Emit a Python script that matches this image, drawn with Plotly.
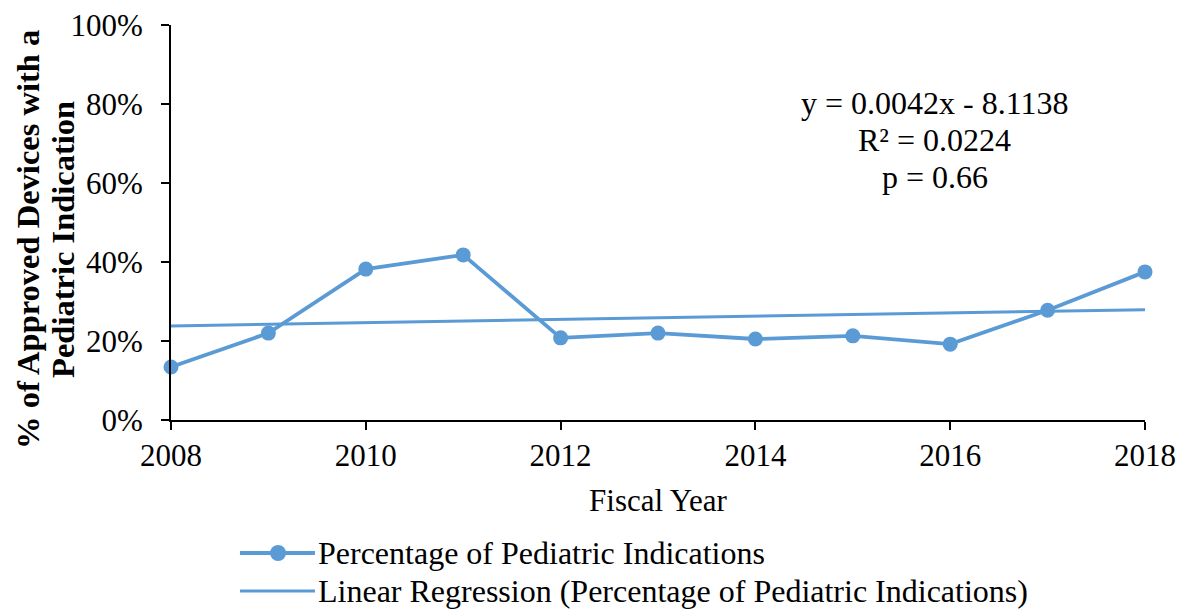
import numpy as np
import plotly.graph_objects as go

years = [2008, 2009, 2010, 2011, 2012, 2013, 2014, 2015, 2016, 2017, 2018]
pct_pediatric = [13.4, 22.0, 38.2, 41.8, 20.8, 22.0, 20.5, 21.3, 19.2, 27.8, 37.5]
y_tick_vals = [0, 20, 40, 60, 80, 100]
y_tick_text = ["0%", "20%", "40%", "60%", "80%", "100%"]
x_tick_vals = [2008, 2010, 2012, 2014, 2016, 2018]
equation_lines = ["y = 0.0042x - 8.1138", "R² = 0.0224", "p = 0.66"]
series_names = ["Percentage of Pediatric Indications",
                "Linear Regression (Percentage of Pediatric Indications)"]
y_title_lines = ["<b>% of Approved Devices with a</b>", "<b>Pediatric Indication</b>"]

slope, intercept = np.polyfit(years, pct_pediatric, 1)
fit_x = [years[0], years[-1]]
fit_y = [slope * x + intercept for x in fit_x]

color = "#5B9BD5"
FF = "Liberation Serif"
FS = 31

fig = go.Figure()
fig.add_trace(go.Scatter(
    x=years, y=pct_pediatric, mode="lines+markers",
    name=series_names[0],
    line=dict(color=color, width=3.8),
    marker=dict(color=color, size=15),
    cliponaxis=False, showlegend=False,
))
fig.add_trace(go.Scatter(
    x=fit_x, y=fit_y, mode="lines",
    name=series_names[1],
    line=dict(color=color, width=3),
    cliponaxis=False, showlegend=False,
))

# regression equation text
for txt, yy in zip(equation_lines, [80.3, 70.9, 61.5]):
    fig.add_annotation(x=2015.84, y=yy, text=txt, showarrow=False,
                       xanchor="center", yanchor="middle",
                       font=dict(size=32, color="black", family=FF))

# y-axis title (two rotated lines)
for txt, xp in zip(y_title_lines, [-0.147, -0.111]):
    fig.add_annotation(xref="paper", yref="paper", x=xp, y=0.458, text=txt,
                       textangle=-90, showarrow=False,
                       xanchor="center", yanchor="middle",
                       font=dict(size=32.5, color="black", family=FF))

# custom legend below the chart
leg_y = [-0.3367, -0.433]
x_line0, x_line1, x_mark, x_text = 0.0708, 0.1478, 0.1099, 0.149
for i, (name, ly) in enumerate(zip(series_names, leg_y)):
    fig.add_shape(type="line", xref="paper", yref="paper",
                  x0=x_line0, x1=x_line1, y0=ly, y1=ly,
                  line=dict(color=color, width=3.8 if i == 0 else 3))
    if i == 0:
        fig.add_shape(type="circle", xref="paper", yref="paper",
                      xsizemode="pixel", ysizemode="pixel",
                      xanchor=x_mark, yanchor=ly, x0=-8, x1=8, y0=-8, y1=8,
                      fillcolor=color, line=dict(color=color, width=0))
    fig.add_annotation(xref="paper", yref="paper", x=x_text, y=ly, text=name,
                       showarrow=False, xanchor="left", yanchor="middle",
                       font=dict(size=32, color="black", family=FF))

axis_common = dict(showgrid=False, zeroline=False, showline=True, linecolor="black",
                   linewidth=2, ticks="outside", ticklen=8, tickwidth=2,
                   tickcolor="black", automargin=False, ticklabeloverflow="allow",
                   tickfont=dict(size=FS, family=FF, color="black"))

fig.update_layout(
    width=1178, height=611,
    margin=dict(l=171, r=33, t=25, b=191, autoexpand=False),
    paper_bgcolor="white", plot_bgcolor="white",
    font=dict(family=FF, size=FS, color="black"),
    showlegend=False,
    xaxis=dict(range=[2008, 2018], tickmode="array", tickvals=x_tick_vals,
               ticktext=[str(v) for v in x_tick_vals], ticklabelstandoff=-1,
               title=dict(text="Fiscal Year", standoff=17,
                          font=dict(size=FS, family=FF, color="black")),
               **axis_common),
    yaxis=dict(range=[0, 100], tickmode="array", tickvals=y_tick_vals,
               ticktext=y_tick_text, ticklabelstandoff=12,
               **axis_common),
)

fig.write_html("out.html", config={"displayModeBar": False},
               post_script="document.body.style.margin='0';document.body.style.overflow='hidden';")
